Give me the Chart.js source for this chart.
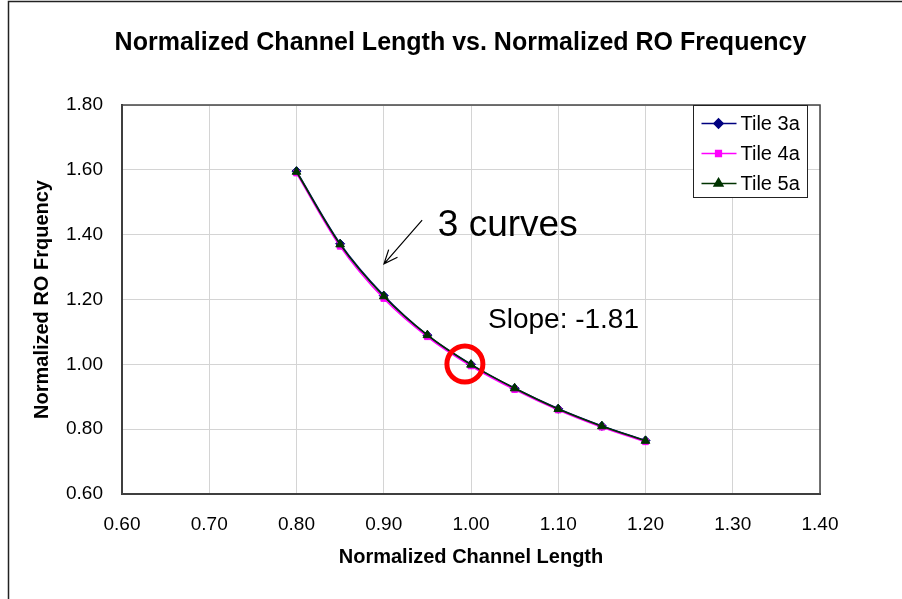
<!DOCTYPE html>
<html>
<head>
<meta charset="utf-8">
<script src="https://cdn.jsdelivr.net/npm/chart.js@4/dist/chart.umd.min.js"></script>
<style>
  html, body { margin: 0; padding: 0; background: #fff; }
  #wrap { width: 902px; height: 599px; }
</style>
</head>
<body>
<div id="wrap"><canvas id="roChart" width="902" height="599"></canvas></div>
<script>
// Chart data
const channelLength = [0.80, 0.85, 0.90, 0.95, 1.00, 1.05, 1.10, 1.15, 1.20];
const tile3a = [1.596, 1.372, 1.212, 1.090, 1.000, 0.926, 0.863, 0.810, 0.765];
const tile4a = [1.590, 1.364, 1.203, 1.085, 0.995, 0.922, 0.859, 0.806, 0.761];
const tile5a = [1.594, 1.370, 1.210, 1.090, 0.999, 0.926, 0.862, 0.809, 0.764];
const seriesNames = ['Tile 3a', 'Tile 4a', 'Tile 5a'];

const FONT = '"Liberation Sans", Arial, sans-serif';

function toPoints(ys) {
    return channelLength.map((x, i) => ({ x: x, y: ys[i] }));
}

function makeSet(label, ys, color, style, radius, order) {
    return {
        label: label,
        data: toPoints(ys),
        showLine: true,
        borderColor: color,
        backgroundColor: color,
        borderWidth: 1.6,
        pointStyle: style,
        pointRadius: radius,
        pointBorderWidth: 1,
        tension: 0.3,
        order: order
    };
}

// Background, frame and plot box
const framePlugin = {
    id: 'frame',
    beforeDraw(chart) {
        const ctx = chart.ctx;
        ctx.save();
        ctx.fillStyle = '#fff';
        ctx.fillRect(0, 0, chart.width, chart.height);
        ctx.strokeStyle = '#222';
        ctx.lineWidth = 1.5;
        ctx.strokeRect(8.5, 1.5, 1200, 1200);
        ctx.restore();
    },
    afterDatasetsDraw(chart) {
        const ctx = chart.ctx;
        const a = chart.chartArea;
        ctx.save();
        ctx.strokeStyle = '#444';
        ctx.lineWidth = 1.5;
        ctx.strokeRect(a.left, a.top, a.right - a.left, a.bottom - a.top);
        ctx.restore();
    }
};

// Text, arrow and circle notes on the plot
const notesPlugin = {
    id: 'notes',
    afterDatasetsDraw(chart) {
        const ctx = chart.ctx;
        const xs = chart.scales.x, ys = chart.scales.y;
        const px = v => xs.getPixelForValue(v);
        const py = v => ys.getPixelForValue(v);
        ctx.save();

        // arrow
        const x1 = px(0.944), y1 = py(1.445), x2 = px(0.9003), y2 = py(1.31);
        ctx.strokeStyle = '#000';
        ctx.lineWidth = 1.2;
        ctx.beginPath();
        ctx.moveTo(x1, y1);
        ctx.lineTo(x2, y2);
        const ang = Math.atan2(y2 - y1, x2 - x1);
        const h = 15;
        ctx.moveTo(x2 + h * Math.cos(ang + Math.PI - 0.4), y2 + h * Math.sin(ang + Math.PI - 0.4));
        ctx.lineTo(x2, y2);
        ctx.lineTo(x2 + h * Math.cos(ang + Math.PI + 0.4), y2 + h * Math.sin(ang + Math.PI + 0.4));
        ctx.stroke();

        ctx.fillStyle = '#000';
        ctx.textBaseline = 'alphabetic';
        ctx.textAlign = 'left';
        ctx.font = '37px ' + FONT;
        ctx.fillText('3 curves', px(0.962), py(1.395));
        ctx.textBaseline = 'middle';
        ctx.font = '28px ' + FONT;
        ctx.fillText('Slope: -1.81', px(1.0195), py(1.137));

        // red circle
        ctx.strokeStyle = '#ff0000';
        ctx.lineWidth = 5;
        ctx.beginPath();
        ctx.arc(px(0.993), py(1.001), 18, 0, Math.PI * 2);
        ctx.stroke();

        // legend box
        const lx = 693.5, ly = 105.5, lw = 114, lh = 92;
        ctx.fillStyle = '#fff';
        ctx.fillRect(lx, ly, lw, lh);
        ctx.strokeStyle = '#222';
        ctx.lineWidth = 1;
        ctx.strokeRect(lx, ly, lw, lh);
        chart.data.datasets.forEach((ds, i) => {
            const cy = ly + 18 + i * 30;
            ctx.strokeStyle = ds.borderColor;
            ctx.lineWidth = 1.6;
            ctx.beginPath();
            ctx.moveTo(lx + 8, cy);
            ctx.lineTo(lx + 43, cy);
            ctx.stroke();
            ctx.fillStyle = ds.borderColor;
            Chart.helpers.drawPoint(ctx, {
                pointStyle: ds.pointStyle, radius: ds.pointRadius, rotation: 0, borderWidth: 1
            }, lx + 25, cy);
            ctx.fillStyle = '#000';
            ctx.font = '20px ' + FONT;
            ctx.textBaseline = 'middle';
            ctx.fillText(ds.label, lx + 47, cy + 1);
        });
        ctx.restore();
    }
};

function initRoChart() {
    const ctx = document.getElementById('roChart').getContext('2d');
    new Chart(ctx, {
        type: 'scatter',
        data: {
            datasets: [
                makeSet(seriesNames[0], tile3a, '#000080', 'rectRot', 4.5, 3),
                makeSet(seriesNames[1], tile4a, '#ff00ff', 'rect', 4, 2),
                makeSet(seriesNames[2], tile5a, '#003300', 'triangle', 5, 1)
            ]
        },
        options: {
            responsive: false,
            animation: false,
            layout: { padding: { left: 19, right: 0, top: 0, bottom: 0 } },
            plugins: {
                legend: { display: false },
                tooltip: { enabled: false },
                title: {
                    display: true,
                    text: 'Normalized Channel Length vs. Normalized RO Frequency',
                    color: '#000',
                    font: { family: FONT, size: 25, weight: 'bold' },
                    padding: { top: 28, bottom: 47 }
                }
            },
            scales: {
                x: {
                    type: 'linear',
                    min: 0.6,
                    max: 1.4,
                    ticks: {
                        stepSize: 0.1,
                        padding: 19,
                        color: '#000',
                        font: { family: FONT, size: 19 },
                        callback: v => v.toFixed(2)
                    },
                    grid: { color: '#d4d4d4', lineWidth: 1, drawTicks: false },
                    border: { color: '#333', width: 2 },
                    title: {
                        display: true,
                        text: 'Normalized Channel Length',
                        color: '#000',
                        font: { family: FONT, size: 20, weight: 'bold' },
                        padding: { top: 0, bottom: 30 }
                    },
                    afterFit(scale) { scale.height = 105; }
                },
                y: {
                    min: 0.6,
                    max: 1.8,
                    ticks: {
                        stepSize: 0.2,
                        padding: 19,
                        color: '#000',
                        font: { family: FONT, size: 19 },
                        callback: v => v.toFixed(2)
                    },
                    grid: { color: '#d4d4d4', lineWidth: 1, drawTicks: false },
                    border: { color: '#333', width: 2 },
                    title: {
                        display: true,
                        text: 'Normalized RO Frquency',
                        color: '#000',
                        font: { family: FONT, size: 20, weight: 'bold' },
                        padding: { top: 11, bottom: 0 }
                    },
                    afterFit(scale) { scale.width = 103; }
                },
                // empty right-hand axis, keeps the plot box off the right edge
                yRight: {
                    position: 'right',
                    min: 0.6,
                    max: 1.8,
                    ticks: { display: false },
                    grid: { display: false },
                    border: { display: false },
                    afterFit(scale) { scale.width = 82; }
                }
            }
        },
        plugins: [framePlugin, notesPlugin]
    });
}

initRoChart();
</script>
</body>
</html>
